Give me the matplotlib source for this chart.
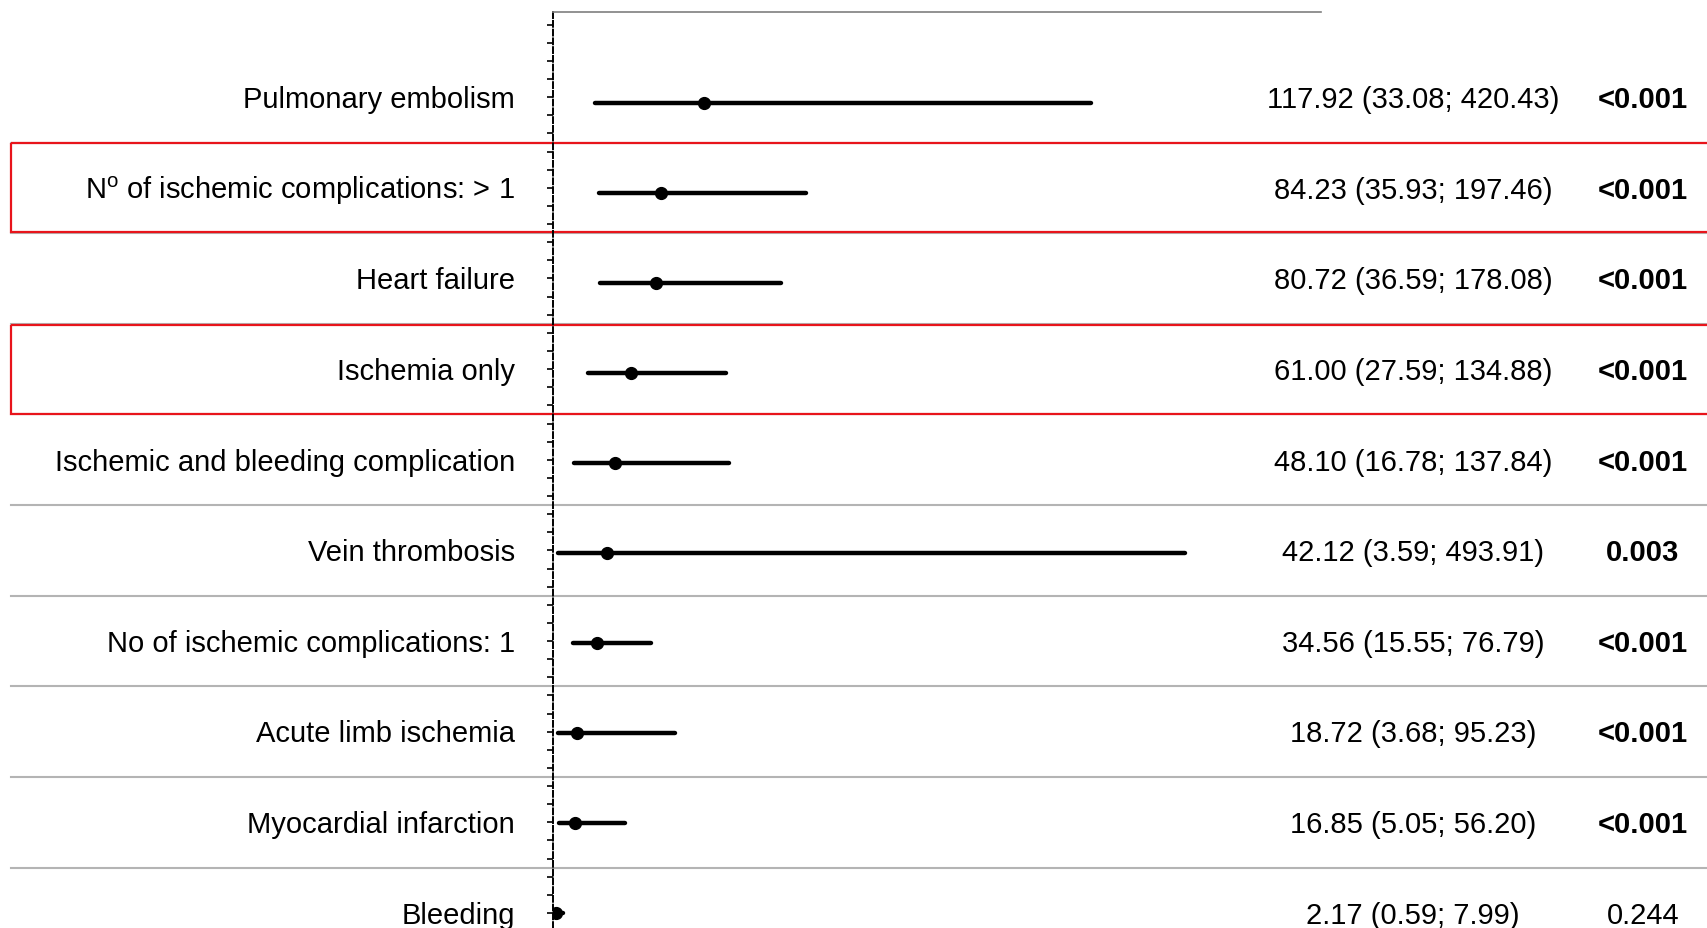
import numpy as np
import matplotlib
matplotlib.use('Agg')
import matplotlib.pyplot as plt
from matplotlib.patches import Rectangle
from matplotlib.transforms import blended_transform_factory

plt.rcParams['font.family'] = 'Liberation Sans'
plt.rcParams['mathtext.fontset'] = 'custom'
plt.rcParams['mathtext.rm'] = 'Liberation Sans'

# 数据
labels = ['Pulmonary embolism',
          'N$^{\\mathrm{o}}$ of ischemic complications: > 1',
          'Heart failure',
          'Ischemia only',
          'Ischemic and bleeding complication',
          'Vein thrombosis',
          'No of ischemic complications: 1',
          'Acute limb ischemia',
          'Myocardial infarction',
          'Bleeding']
est = [117.92, 84.23, 80.72, 61.00, 48.10, 42.12, 34.56, 18.72, 16.85, 2.17]
lo = [33.08, 35.93, 36.59, 27.59, 16.78, 3.59, 15.55, 3.68, 5.05, 0.59]
hi = [420.43, 197.46, 178.08, 134.88, 137.84, 493.91, 76.79, 95.23, 56.20, 7.99]
pvals = ['<0.001', '<0.001', '<0.001', '<0.001', '<0.001', '0.003',
         '<0.001', '<0.001', '<0.001', '0.244']
boxed = [1, 3]  # 红框的行

fig = plt.figure(figsize=(17.08, 9.29), dpi=100)
ax = fig.add_axes([553 / 1708, 0, 768 / 1708, 1 - 13 / 929])

n = len(labels)
y = np.arange(n)
# 点线图的行位置略微向下偏移（上面多，下面少）
y_bar = y + 0.06 * (n - 1 - y) / (n - 1)
fs = 21

# 误差线和点
for i in range(n):
    ax.plot([lo[i], hi[i]], [y_bar[i], y_bar[i]], color='black', lw=3.2,
            solid_capstyle='round', zorder=3)
ax.plot(est, y_bar, 'o', color='black', markersize=8.5, zorder=4)

ax.set_xlim(0, 600)
ax.set_ylim(9.166, -0.94)

# 坐标轴样式
ax.spines['right'].set_visible(False)
ax.spines['bottom'].set_visible(False)
ax.spines['top'].set_color('#7f7f7f')
ax.spines['top'].set_linewidth(1.2)
ax.spines['left'].set_linestyle((0, (3, 1.5)))
ax.spines['left'].set_linewidth(1.4)
ax.set_xticks([])
ax.set_yticks(np.arange(-0.8, 9.2, 0.2))
ax.tick_params(axis='y', direction='out', length=4, width=1.2, labelleft=False)

# 分隔线 (x 用 figure 坐标, y 用数据坐标)
trans = blended_transform_factory(fig.transFigure, ax.transData)
for i in range(n - 1):
    ax.plot([11 / 1708, 1.0], [i + 0.5, i + 0.5], color='#b4b4b4', lw=1.5,
            transform=trans, clip_on=False, zorder=1)

for i in boxed:
    rect = Rectangle((11 / 1708, i - 0.49), 1.0, 0.98, transform=trans,
                     fill=False, edgecolor='#e8141b', lw=1.6, clip_on=False, zorder=2)
    ax.add_patch(rect)

# 文本列
for i in range(n):
    ty = y[i] + 0.02
    ax.text(515 / 1708, ty, labels[i], ha='right', va='center', fontsize=fs,
            transform=trans)
    ci = '%.2f (%.2f; %.2f)' % (est[i], lo[i], hi[i])
    ax.text(1413 / 1708, ty, ci, ha='center', va='center', fontsize=fs,
            transform=trans)
    # 显著的 p 值加粗
    weight = 'bold' if pvals[i] != '0.244' else 'normal'
    ax.text(1643 / 1708, ty, pvals[i], ha='center', va='center', fontsize=fs,
            fontweight=weight, transform=trans)

fig.savefig('out.png', dpi=100)
